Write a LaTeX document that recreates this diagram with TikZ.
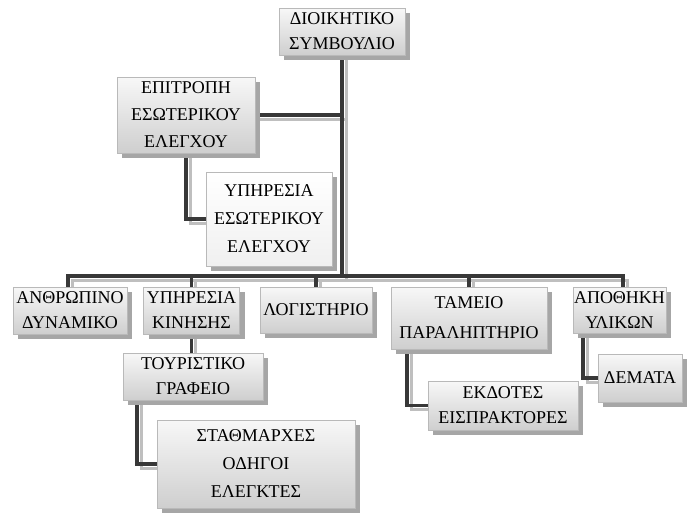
\documentclass[tikz,border=0pt]{standalone}
\usepackage{fontspec}
\setmainfont{Liberation Serif}
\usetikzlibrary{shadows}
\pgfdeclarelayer{background}
\pgfsetlayers{background,main}
\begin{document}
\begin{tikzpicture}[x=1pt,y=-1pt,
  box/.style={draw=gray!55, line width=0.6pt, top color=gray!6, bottom color=gray!38,
    align=center, inner sep=0pt, font=\fontsize{18}{25}\selectfont,
    drop shadow={shadow xshift=5pt, shadow yshift=-5pt, fill=gray!70, opacity=1}},
  lightbox/.style={box, top color=white, bottom color=gray!12},
  linkshadow/.style={draw=gray!50, line width=3pt, line cap=rect},
  link/.style={draw=black!78, line width=3.4pt, line cap=rect}]
\useasboundingbox (0,0) rectangle (688,517);

% coordinates for connector bends
\coordinate (busL) at (68,276);
\coordinate (busR) at (623,276);
\coordinate (tl) at (137,0);
\coordinate (tm) at (407,0);
\coordinate (tr) at (583,0);

% nodes
\node[box, minimum width=126, minimum height=47] (top) at (342,31.5) {ΔΙΟΙΚΗΤΙΚΟ\\ΣΥΜΒΟΥΛΙΟ};
\node[box, minimum width=138, minimum height=76, font=\fontsize{18}{27}\selectfont] (epi) at (186,115) {ΕΠΙΤΡΟΠΗ\\ΕΣΩΤΕΡΙΚΟΥ\\ΕΛΕΓΧΟΥ};
\node[lightbox, minimum width=126, minimum height=94, font=\fontsize{18}{28}\selectfont] (yp) at (269,219) {ΥΠΗΡΕΣΙΑ\\ΕΣΩΤΕΡΙΚΟΥ\\ΕΛΕΓΧΟΥ};
\node[box, minimum width=114, minimum height=47] (n1) at (70,310.5) {ΑΝΘΡΩΠΙΝΟ\\ΔΥΝΑΜΙΚΟ};
\node[box, minimum width=96, minimum height=47] (n2) at (191.5,310.5) {ΥΠΗΡΕΣΙΑ\\ΚΙΝΗΣΗΣ};
\node[box, minimum width=112, minimum height=46] (n3) at (316,310) {ΛΟΓΙΣΤΗΡΙΟ};
\node[box, minimum width=156, minimum height=62, font=\fontsize{18}{30}\selectfont] (n4) at (469,318) {ΤΑΜΕΙΟ\\ΠΑΡΑΛΗΠΤΗΡΙΟ};
\node[box, minimum width=93, minimum height=46] (n5) at (619.5,310) {ΑΠΟΘΗΚΗ\\ΥΛΙΚΩΝ};
\node[box, minimum width=140, minimum height=47] (tour) at (193,376.5) {ΤΟΥΡΙΣΤΙΚΟ\\ΓΡΑΦΕΙΟ};
\node[box, minimum width=198, minimum height=88, font=\fontsize{18}{28}\selectfont] (stath) at (256,464) {ΣΤΑΘΜΑΡΧΕΣ\\ΟΔΗΓΟΙ\\ΕΛΕΓΚΤΕΣ};
\node[box, minimum width=150, minimum height=49] (ekd) at (503,405.5) {ΕΚΔΟΤΕΣ\\ΕΙΣΠΡΑΚΤΟΡΕΣ};
\node[box, minimum width=84, minimum height=48] (dem) at (640,378) {ΔΕΜΑΤΑ};

% connectors, behind the boxes: a grey shadow pass, then the dark line
\begin{pgfonlayer}{background}
\foreach \sty/\dx/\dy in {linkshadow/4pt/-4pt, link/0pt/0pt}{
  \begin{scope}[transform canvas={xshift=\dx,yshift=\dy}]
    \draw[\sty] (top.south) -- (top.south |- busL);
    \draw[\sty] (busL |- n1.north) -- (busL) -- (busR) -- (busR |- n5.north);
    \draw[\sty] (n2.north) -- (n2.north |- busL);
    \draw[\sty] (n3.north) -- (n3.north |- busL);
    \draw[\sty] (n4.north) -- (n4.north |- busL);
    \draw[\sty] (epi.east) -- (epi.east -| top.south);
    \draw[\sty] (epi.south) -- (epi.south |- yp.west) -- (yp.west);
    \draw[\sty] (n2.south) -- (n2.south |- tour.north);
    \draw[\sty] (tl |- tour.south) -- (tl |- stath.west) -- (stath.west);
    \draw[\sty] (tm |- n4.south) -- (tm |- ekd.west) -- (ekd.west);
    \draw[\sty] (tr |- n5.south) -- (tr |- dem.west) -- (dem.west);
  \end{scope}
}
\end{pgfonlayer}
\end{tikzpicture}
\end{document}
